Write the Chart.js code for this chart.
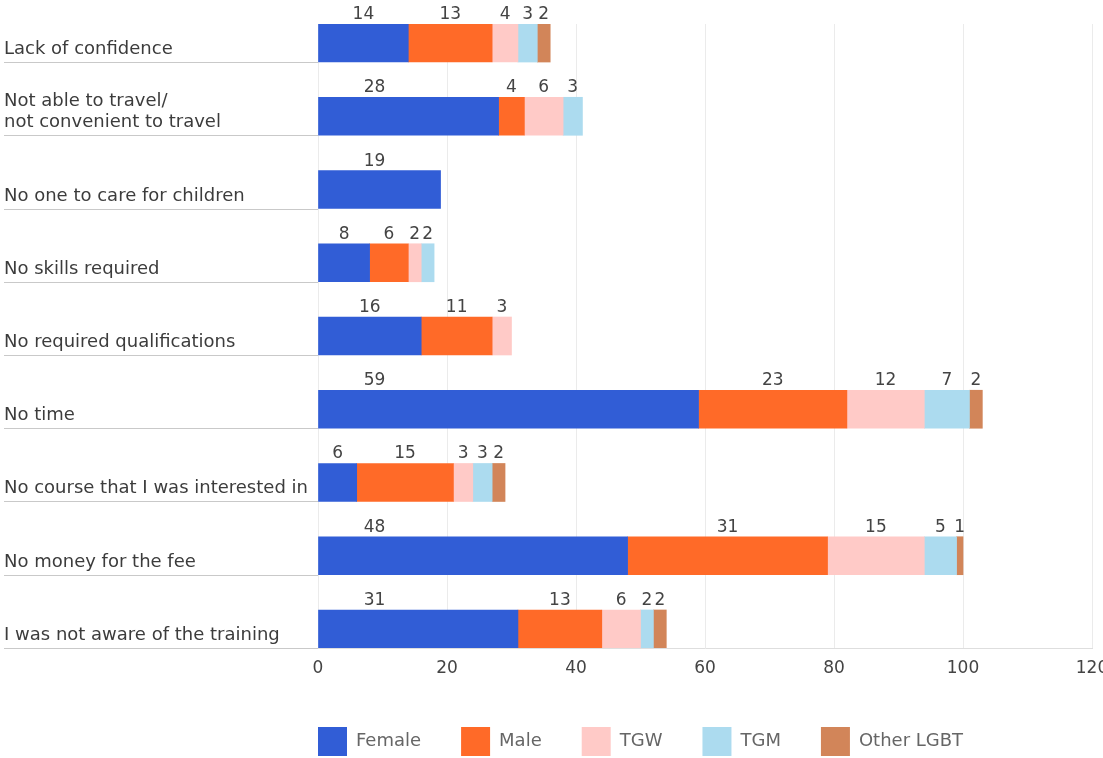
<!DOCTYPE html>
<html>
<head>
<meta charset="utf-8">
<title>Reasons for not attending training</title>
<script src="https://cdn.jsdelivr.net/npm/chart.js@4.4.1/dist/chart.umd.min.js"></script>
<style>
  html, body { margin: 0; padding: 0; background: #fff; overflow: hidden; }
  #wrap { position: relative; width: 1103px; height: 766px; }
</style>
</head>
<body>
<div id="wrap"><canvas id="myChart"></canvas></div>
<script>
// reasons, top to bottom
const reasons = [
    'Lack of confidence',
    ['Not able to travel/', 'not convenient to travel'],
    'No one to care for children',
    'No skills required',
    'No required qualifications',
    'No time',
    'No course that I was interested in',
    'No money for the fee',
    'I was not aware of the training'
];

const groups = ['Female', 'Male', 'TGW', 'TGM', 'Other LGBT'];

const female    = [14, 28, 19, 8, 16, 59, 6, 48, 31];
const male      = [13, 4, null, 6, 11, 23, 15, 31, 13];
const tgw       = [4, 6, null, 2, 3, 12, 3, 15, 6];
const tgm       = [3, 3, null, 2, null, 7, 3, 5, 2];
const otherLgbt = [2, null, null, null, null, 2, 2, 1, 2];

const xMin = 0;
const xMax = 120;
const xStep = 20;

const colors = ['#315dd6', '#ff6a28', '#ffcac7', '#acdbef', '#d28559'];
const BAR = 38;
const FONT = "'DejaVu Sans', sans-serif";

Chart.defaults.font.family = FONT;

// one row per reason on a numeric axis, so the bars can sit at the bottom of each row
function toPoints(values) {
    return values.map((v, i) => ({ x: v, y: i }));
}

const series = [female, male, tgw, tgm, otherLgbt];

// reason text + the grey rule under each row
const rowLabels = {
    id: 'rowLabels',
    afterDraw(chart) {
        const ctx = chart.ctx;
        const ys = chart.scales.y;
        const left = chart.chartArea.left;
        ctx.save();
        ctx.font = '18px ' + FONT;
        ctx.fillStyle = '#3c3c3c';
        ctx.textAlign = 'left';
        ctx.textBaseline = 'alphabetic';
        ctx.strokeStyle = '#c9c9c9';
        ctx.lineWidth = 1;
        reasons.forEach((r, i) => {
            const bottom = Math.round(ys.getPixelForValue(i) + BAR / 2);
            ctx.beginPath();
            ctx.moveTo(4, bottom + 0.5);
            ctx.lineTo(left, bottom + 0.5);
            ctx.stroke();
            const lines = Array.isArray(r) ? r : [r];
            lines.forEach((t, k) => {
                ctx.fillText(t, 4, bottom - 8 - (lines.length - 1 - k) * 21);
            });
        });
        ctx.restore();
    }
};

// value above every segment
const segmentLabels = {
    id: 'segmentLabels',
    afterDatasetsDraw(chart) {
        const ctx = chart.ctx;
        ctx.save();
        ctx.font = '17px ' + FONT;
        ctx.fillStyle = '#444';
        ctx.textAlign = 'center';
        ctx.textBaseline = 'alphabetic';
        chart.data.datasets.forEach((ds, d) => {
            chart.getDatasetMeta(d).data.forEach((bar, i) => {
                const v = ds.data[i].x;
                if (!v) return;
                let x = (bar.x + bar.base) / 2;
                // first segment: keep the number near the start of long bars
                if (d === 0) x = Math.min(x, bar.base + 56);
                ctx.fillText(v, x, bar.y - bar.height / 2 - 5);
            });
        });
        ctx.restore();
    }
};

const ctx = document.getElementById('myChart').getContext('2d');
new Chart(ctx, {
    type: 'bar',
    data: {
        datasets: groups.map((g, k) => ({
            label: g,
            data: toPoints(series[k]),
            backgroundColor: colors[k],
            borderWidth: 0,
            barThickness: BAR
        }))
    },
    options: {
        indexAxis: 'y',
        responsive: true,
        maintainAspectRatio: false,
        animation: false,
        layout: { padding: { left: 278, right: 11, top: 24, bottom: 0 } },
        scales: {
            x: {
                type: 'linear',
                stacked: true,
                min: xMin,
                max: xMax,
                ticks: {
                    stepSize: xStep,
                    color: '#444',
                    padding: 10,
                    font: { size: 17 }
                },
                grid: { color: '#ebebeb', drawTicks: false },
                border: { color: '#dedede' },
                afterFit(scale) {
                    scale.height = 39;
                    scale.paddingLeft = 0;
                    scale.paddingRight = 0;
                }
            },
            y: {
                type: 'linear',
                stacked: true,
                reverse: true,
                offset: false,
                min: -0.26,
                max: reasons.length - 1 + 0.26,
                ticks: { display: false },
                grid: { display: false, offset: false },
                border: { display: false },
                afterFit(scale) {
                    scale.width = 40;
                }
            }
        },
        plugins: {
            legend: {
                position: 'bottom',
                align: 'start',
                labels: {
                    boxWidth: 29,
                    boxHeight: 29,
                    padding: 40,
                    color: '#666',
                    font: { size: 18 }
                }
            },
            tooltip: { enabled: false }
        }
    },
    plugins: [rowLabels, segmentLabels]
});
</script>
</body>
</html>
